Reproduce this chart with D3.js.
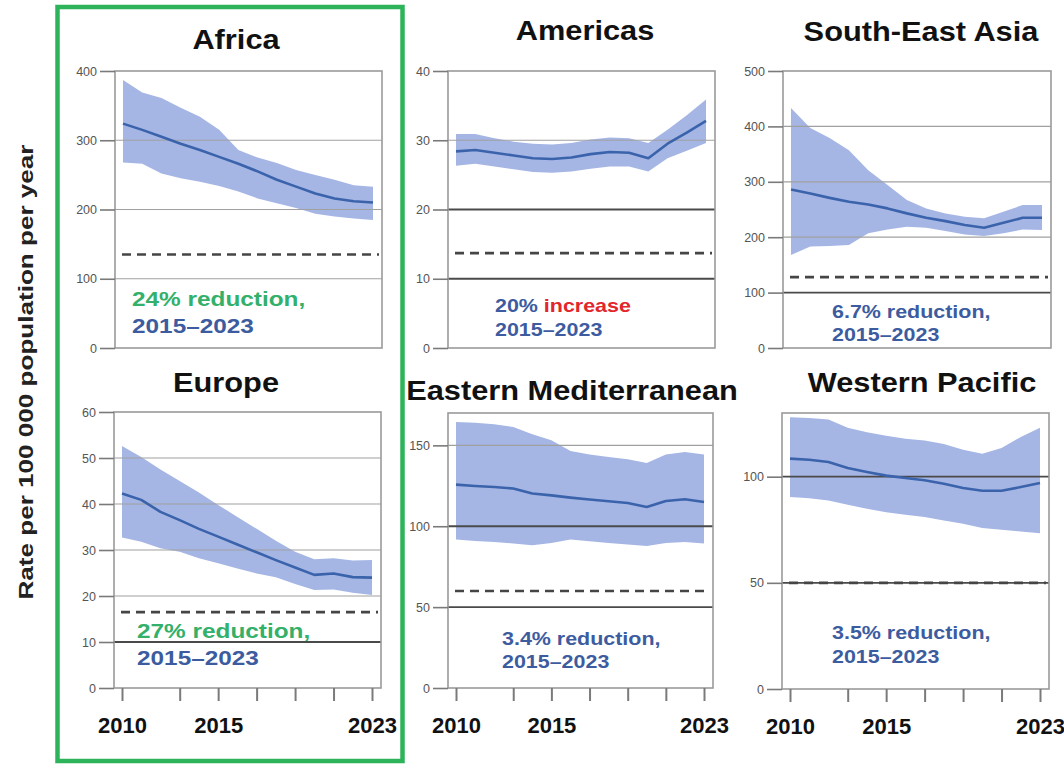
<!DOCTYPE html>
<html>
<head>
<meta charset="utf-8">
<script src="https://cdn.jsdelivr.net/npm/d3@7"></script>
<style>
  body { margin: 0; background: #fff; }
  svg { display: block; font-family: "Liberation Sans", Arial, sans-serif; }
</style>
</head>
<body>
<svg id="chart" width="1064" height="764"></svg>
<script>
// ---- Data: incidence rate per 100 000 population per year, by WHO region ----
const years = [2010, 2011, 2012, 2013, 2014, 2015, 2016, 2017, 2018, 2019, 2020, 2021, 2022, 2023];
const xTickYears = [2010, 2013, 2015, 2017, 2019, 2021, 2023];
const xLabelYears = [2010, 2015, 2023];

const africaMid = [324, 315, 305, 295, 286, 276, 266, 255, 243, 233, 223, 216, 212, 210];
const africaHi  = [387, 369, 361, 347, 334, 315, 286, 275, 267, 257, 250, 243, 235, 233];
const africaLo  = [268, 266, 252, 245, 240, 234, 226, 216, 209, 202, 194, 190, 187, 185];

const americasMid = [28.4, 28.6, 28.2, 27.8, 27.4, 27.3, 27.5, 28.0, 28.3, 28.2, 27.4, 29.5, 31.1, 32.8];
const americasHi  = [30.9, 30.9, 30.3, 29.8, 29.5, 29.4, 29.6, 30.1, 30.4, 30.3, 29.6, 31.5, 33.6, 35.9];
const americasLo  = [26.3, 26.6, 26.2, 25.8, 25.4, 25.3, 25.5, 25.9, 26.2, 26.2, 25.5, 27.4, 28.5, 29.6];

const seAsiaMid = [286, 279, 271, 264, 259, 252, 243, 235, 229, 222, 217, 226, 235, 235];
const seAsiaHi  = [433, 397, 379, 357, 321, 294, 267, 252, 243, 237, 234, 246, 258, 258];
const seAsiaLo  = [168, 183, 184, 186, 207, 214, 219, 217, 211, 205, 202, 207, 214, 213];

const europeMid = [42.3, 40.9, 38.3, 36.5, 34.6, 32.9, 31.2, 29.5, 27.8, 26.2, 24.6, 24.9, 24.1, 24.0];
const europeHi  = [52.6, 50.2, 47.5, 45.0, 42.5, 39.8, 37.2, 34.6, 32.0, 29.6, 28.0, 28.2, 27.7, 27.8];
const europeLo  = [32.7, 31.8, 30.4, 29.6, 28.2, 27.1, 26.0, 24.9, 24.1, 22.6, 21.3, 21.4, 20.7, 20.2];

const eMedMid = [125.7, 124.9, 124.3, 123.3, 120.2, 119.1, 117.7, 116.5, 115.4, 114.4, 111.9, 115.6, 116.7, 115.0];
const eMedHi  = [164.4, 164.0, 163.0, 161.3, 156.8, 153.1, 146.5, 144.4, 142.8, 141.4, 139.1, 144.4, 145.9, 144.3];
const eMedLo  = [91.8, 90.9, 90.3, 89.3, 88.3, 89.7, 91.8, 90.7, 89.7, 88.7, 87.8, 89.7, 90.3, 89.3];

const wPacMid = [108.5, 108.0, 106.9, 104.1, 102.2, 100.5, 99.4, 98.3, 96.7, 94.7, 93.4, 93.4, 95.1, 97.0];
const wPacHi  = [128.0, 127.7, 126.9, 123.0, 120.9, 119.3, 117.9, 117.0, 115.4, 112.7, 110.8, 113.5, 118.7, 123.0];
const wPacLo  = [90.4, 89.9, 88.8, 86.8, 84.9, 83.3, 82.1, 81.0, 79.4, 77.8, 75.8, 75.0, 74.2, 73.4];

// 2025 milestone levels (dashed lines)
const milestones = [135, 13.7, 128, 16.5, 60, 50];
const yMax = [400, 40, 500, 60, 170, 130];
const yTicks = [
  [0, 100, 200, 300, 400],
  [0, 10, 20, 30, 40],
  [0, 100, 200, 300, 400, 500],
  [0, 10, 20, 30, 40, 50, 60],
  [0, 50, 100, 150],
  [0, 50, 100]
];
const regionNames = ["Africa", "Americas", "South-East Asia", "Europe", "Eastern Mediterranean", "Western Pacific"];
const changeText = ["24% reduction,", "20% ", "6.7% reduction,", "27% reduction,", "3.4% reduction,", "3.5% reduction,"];
const periodText = "2015\u20132023";

// ---- Colours ----
const C = {
  band: "#a5b6e5",
  line: "#3a63ab",
  grid: "#a0a0a0",
  gridStrong: "#4a4a4a",
  frame: "#9a9a9a",
  target: "#454545",
  blueText: "#3d5c9f",
  greenText: "#33b06a",
  redText: "#e2262c",
  box: "#2db45a"
};

// ---- Layout of the six small multiples ----
const layout = [
  { l: 115, r: 382, t: 71,  b: 348, xAxis: false, strong: [],        title: [236, 49],  note: [132, 306, 333], noteSize: 21, first: C.greenText },
  { l: 448, r: 715, t: 71,  b: 348, xAxis: false, strong: [10, 20],  title: [585, 40],  note: [495, 312, 336], noteSize: 18.5, first: C.blueText },
  { l: 783, r: 1051, t: 71, b: 348, xAxis: false, strong: [100],     title: [921, 41],  note: [832, 318, 341], noteSize: 18.5, first: C.blueText },
  { l: 114, r: 381, t: 412, b: 688, xAxis: true,  strong: [10],      title: [226, 392], note: [137, 638, 665], noteSize: 21, first: C.greenText },
  { l: 448, r: 713, t: 413, b: 688, xAxis: true,  strong: [50, 100], title: [572, 400], note: [502, 645, 668], noteSize: 18.5, first: C.blueText },
  { l: 782, r: 1049, t: 413, b: 689, xAxis: true, strong: [50, 100], title: [922, 392], note: [832, 639, 663], noteSize: 18.5, first: C.blueText }
];

const series = [
  [africaMid, africaLo, africaHi],
  [americasMid, americasLo, americasHi],
  [seAsiaMid, seAsiaLo, seAsiaHi],
  [europeMid, europeLo, europeHi],
  [eMedMid, eMedLo, eMedHi],
  [wPacMid, wPacLo, wPacHi]
];

const svg = d3.select("#chart");
svg.append("rect").attr("width", 1064).attr("height", 764).attr("fill", "#fff");

// Bold text, slightly widened horizontally
function wideText(parent, x, y, size, sx, anchor) {
  return parent.append("text")
    .attr("transform", `translate(${x},${y}) scale(${sx},1)`)
    .attr("text-anchor", anchor)
    .attr("font-size", size)
    .attr("font-weight", "bold");
}

series.forEach(([mid, lo, hi], k) => {
  const L = layout[k];
  const g = svg.append("g");

  const x = d3.scaleLinear().domain([years[0], years[years.length - 1]]).range([L.l + 8, L.r - 9]);
  const y = d3.scaleLinear().domain([0, yMax[k]]).range([L.b, L.t]);

  // uncertainty band
  g.append("path")
    .datum(years)
    .attr("fill", C.band)
    .attr("d", d3.area()
      .x(d => x(d))
      .y0((d, i) => y(lo[i]))
      .y1((d, i) => y(hi[i])));

  // horizontal gridlines
  g.selectAll("line.grid")
    .data(yTicks[k].filter(v => v > 0 && v < yMax[k]))
    .join("line")
    .attr("x1", L.l).attr("x2", L.r)
    .attr("y1", d => y(d)).attr("y2", d => y(d))
    .attr("stroke", d => L.strong.includes(d) ? C.gridStrong : C.grid)
    .attr("stroke-width", d => L.strong.includes(d) ? 1.8 : 1.2);

  // plot frame
  g.append("rect")
    .attr("x", L.l).attr("y", L.t)
    .attr("width", L.r - L.l).attr("height", L.b - L.t)
    .attr("fill", "none")
    .attr("stroke", C.frame)
    .attr("stroke-width", 1.6);

  // y axis
  const ya = g.append("g")
    .attr("transform", `translate(${L.l},0)`)
    .call(d3.axisLeft(y).tickValues(yTicks[k]).tickSize(15).tickPadding(3));
  ya.select(".domain").remove();
  ya.selectAll(".tick line").attr("stroke", "#7a7a7a").attr("stroke-width", 1.6);
  ya.selectAll(".tick text")
    .attr("font-size", 12.5)
    .attr("fill", "#555")
    .attr("font-family", "'Liberation Sans', Arial, sans-serif");

  // milestone (dashed)
  g.append("line")
    .attr("x1", x(years[0]) - 1).attr("x2", L.r - 3)
    .attr("y1", y(milestones[k])).attr("y2", y(milestones[k]))
    .attr("stroke", C.target)
    .attr("stroke-width", 2.6)
    .attr("stroke-dasharray", "9,6");

  // central estimate
  g.append("path")
    .datum(years)
    .attr("fill", "none")
    .attr("stroke", C.line)
    .attr("stroke-width", 2.6)
    .attr("stroke-linejoin", "round")
    .attr("d", d3.line().x(d => x(d)).y((d, i) => y(mid[i])));

  // x axis (bottom row only)
  if (L.xAxis) {
    const xa = g.append("g")
      .attr("transform", `translate(0,${L.b})`)
      .call(d3.axisBottom(x)
        .tickValues(xTickYears)
        .tickSize(13)
        .tickPadding(16)
        .tickFormat(d => xLabelYears.includes(d) ? String(d) : ""));
    xa.select(".domain").remove();
    xa.selectAll(".tick line").attr("stroke", "#7a7a7a").attr("stroke-width", 2);
    xa.selectAll(".tick text")
      .attr("font-size", 22)
      .attr("font-weight", "bold")
      .attr("fill", "#111")
      .attr("font-family", "'Liberation Sans', Arial, sans-serif");
  }

  // region title
  wideText(svg, L.title[0], L.title[1], 27, 1.14, "middle")
    .attr("fill", "#111")
    .text(regionNames[k]);

  // change annotation
  const t1 = wideText(svg, L.note[0], L.note[1], L.noteSize, 1.16, "start");
  t1.append("tspan").attr("fill", L.first).text(changeText[k]);
  if (k === 1) t1.append("tspan").attr("fill", C.redText).text("increase");
  wideText(svg, L.note[0], L.note[2], L.noteSize, 1.16, "start")
    .attr("fill", C.blueText)
    .text(periodText);
});

// highlight box around the two regions on track
svg.append("rect")
  .attr("x", 57.5).attr("y", 7)
  .attr("width", 345).attr("height", 754)
  .attr("fill", "none")
  .attr("stroke", C.box)
  .attr("stroke-width", 4.5);

// shared y-axis title
svg.append("text")
  .attr("transform", "translate(33,372) rotate(-90)")
  .attr("text-anchor", "middle")
  .attr("font-size", 20)
  .attr("font-weight", "bold")
  .attr("fill", "#222")
  .attr("textLength", 455)
  .attr("lengthAdjust", "spacingAndGlyphs")
  .text("Rate per 100 000 population per year");
</script>
</body>
</html>
